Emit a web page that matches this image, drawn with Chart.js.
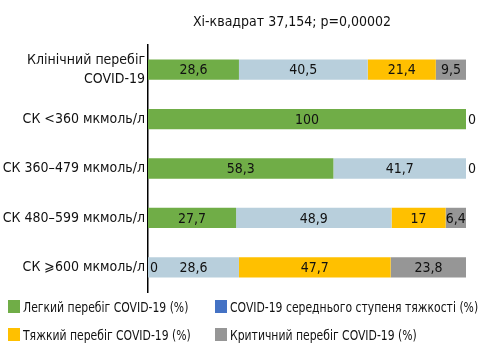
<!DOCTYPE html>
<html>
<head>
<meta charset="utf-8">
<script src="https://cdn.jsdelivr.net/npm/chart.js@4.4.1/dist/chart.umd.min.js"></script>
<style>
  html, body { margin: 0; padding: 0; background: #fff; }
  #wrap { position: relative; width: 478px; height: 354px; }
  #legend { position: absolute; left: 0; top: 0; width: 478px; height: 354px; pointer-events: none;
    font-family: "DejaVu Sans Condensed", sans-serif; font-size: 14px; color: #111; }
  .item { position: absolute; white-space: nowrap; line-height: 16px; }
  .sw { position: absolute; left: 0; top: 1px; width: 12px; height: 13px; }
  .tx { position: absolute; left: 15px; top: 0; transform: scaleX(0.86); transform-origin: left center; }
</style>
</head>
<body>
<div id="wrap">
  <canvas id="chart" width="478" height="354"></canvas>
  <div id="legend"></div>
</div>
<script>
  const FONT = '"DejaVu Sans Condensed", sans-serif';
  const titleText = 'Хі-квадрат 37,154; p=0,00002';

  const categories = [
    ['Клінічний перебіг', 'COVID-19'],
    'СК <360 мкмоль/л',
    'СК 360–479 мкмоль/л',
    'СК 480–599 мкмоль/л',
    'СК ⩾600 мкмоль/л'
  ];
  const seriesNames = [
    'Легкий перебіг COVID-19 (%)',
    'COVID-19 середнього ступеня тяжкості (%)',
    'Тяжкий перебіг COVID-19 (%)',
    'Критичний перебіг COVID-19 (%)'
  ];
  const mild = [28.6, 100, 58.3, 27.7, 0];
  const moderate = [40.5, 0, 41.7, 48.9, 28.6];
  const severe = [21.4, 0, 0, 17, 47.7];
  const critical = [9.5, 0, 0, 6.4, 23.8];

  const barColors = ['#70ad47', '#b8cfdc', '#ffc000', '#969696'];
  const legendColors = ['#70ad47', '#4472c4', '#ffc000', '#969696'];

  // value labels inside the segments, zeros next to the bar edge
  const valueLabels = {
    id: 'valueLabels',
    afterDatasetsDraw(chart) {
      const ctx = chart.ctx;
      const seen = {};
      ctx.save();
      ctx.font = '14px ' + FONT;
      ctx.fillStyle = '#111';
      ctx.textBaseline = 'middle';
      chart.data.datasets.forEach((ds, di) => {
        chart.getDatasetMeta(di).data.forEach((bar, i) => {
          const v = ds.data[i];
          const txt = String(v).replace('.', ',');
          if (v === 0) {
            const key = i + ':' + Math.round(bar.x);
            if (seen[key]) return;
            seen[key] = true;
            ctx.textAlign = 'left';
            ctx.fillText(txt, bar.x + 2, bar.y + 1);
          } else {
            ctx.textAlign = 'center';
            ctx.fillText(txt, (bar.x + bar.base) / 2, bar.y + 1);
          }
        });
      });
      ctx.restore();
    }
  };

  const titlePlugin = {
    id: 'titleText',
    afterDraw(chart) {
      const ctx = chart.ctx;
      ctx.save();
      ctx.font = '14px ' + FONT;
      ctx.fillStyle = '#111';
      ctx.textAlign = 'center';
      ctx.textBaseline = 'middle';
      ctx.fillText(titleText, 292, 22);
      ctx.restore();
    }
  };

  const ctx = document.getElementById('chart').getContext('2d');
  new Chart(ctx, {
    type: 'bar',
    data: {
      labels: categories,
      datasets: [mild, moderate, severe, critical].map((d, k) => ({
        label: seriesNames[k],
        data: d,
        backgroundColor: barColors[k],
        borderWidth: 0,
        barPercentage: 0.41,
        categoryPercentage: 1
      }))
    },
    options: {
      indexAxis: 'y',
      responsive: false,
      animation: false,
      layout: { padding: { top: 45, bottom: 62, right: 12, left: 0 } },
      plugins: {
        legend: { display: false },
        tooltip: { enabled: false }
      },
      scales: {
        x: { stacked: true, min: 0, max: 100, display: false },
        y: {
          stacked: true,
          grid: { display: false, drawTicks: false },
          border: { display: true, color: '#000', width: 1.5 },
          ticks: { color: '#111', padding: 3, font: { family: FONT, size: 14, lineHeight: 1.4 } },
          afterFit(scale) { scale.width = 148; }
        }
      }
    },
    plugins: [valueLabels, titlePlugin]
  });

  // legend in two columns
  const legendPos = [[8, 299], [215, 299], [8, 327], [215, 327]];
  const legend = document.getElementById('legend');
  seriesNames.forEach((name, k) => {
    const el = document.createElement('div');
    el.className = 'item';
    el.style.left = legendPos[k][0] + 'px';
    el.style.top = legendPos[k][1] + 'px';
    el.innerHTML = '<span class="sw" style="background:' + legendColors[k] + '"></span>';
    const tx = document.createElement('span');
    tx.className = 'tx';
    tx.textContent = name;
    el.appendChild(tx);
    legend.appendChild(el);
  });
</script>
</body>
</html>
